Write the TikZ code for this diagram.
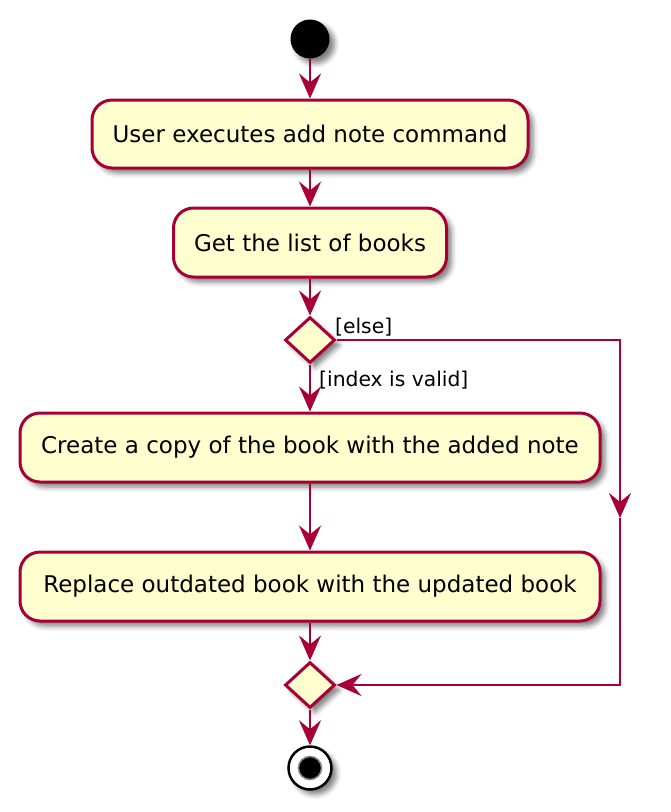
\documentclass[tikz,border=0pt]{standalone}
\usepackage{fontspec}
\setmainfont{DejaVu Sans}
\usetikzlibrary{shapes.geometric,arrows.meta,shadows.blur}
\definecolor{umlred}{HTML}{A80036}
\definecolor{umlfill}{HTML}{FEFECE}
\tikzset{
  shad/.style={blur shadow={shadow xshift=5pt, shadow yshift=-5pt, shadow blur radius=5pt, shadow opacity=50}},
  act/.style={draw=umlred, fill=umlfill, line width=3pt, rounded corners=20pt, inner sep=0pt, font=\fontsize{23}{26}\selectfont, shad},
  dec/.style={draw=umlred, fill=umlfill, line width=3pt, shape=diamond, inner sep=0pt, minimum width=50pt, minimum height=46pt, shad},
  flow/.style={draw=umlred, line width=2.6pt, -{Stealth[length=25pt,width=22pt,inset=9pt]}},
  lbl/.style={font=\fontsize{20.3}{23}\selectfont, inner sep=0pt, anchor=west}
}
\begin{document}
\begin{tikzpicture}[x=1pt,y=-1pt]
\useasboundingbox (0,0) rectangle (670,812);
\node[circle, fill=black, minimum size=39pt, inner sep=0pt, shad] (start) at (310,39) {};
\node[act, minimum width=436pt, minimum height=68pt] (a1) at (310,134) {User executes add note command};
\node[act, minimum width=273pt, minimum height=69pt] (a2) at (310,242.5) {Get the list of books};
\node[dec] (d1) at (310,340) {};
\node[act, minimum width=580pt, minimum height=69pt] (a3) at (310,447.5) {Create a copy of the book with the added note};
\node[act, minimum width=580pt, minimum height=69pt] (a4) at (310,586.5) {Replace outdated book with the updated book};
\node[dec] (d2) at (310,685) {};
\node[circle, draw=black, line width=2.5pt, fill=white, minimum size=43pt, inner sep=0pt, shad] (stop) at (310,768) {};
\node[circle, fill=black, draw=black!50, line width=1.5pt, minimum size=23pt, inner sep=0pt] (stopin) at (stop.center) {};
\coordinate (r1) at (620,340);
\coordinate (rm) at (620,518);
\coordinate (r2) at (620,685);
\draw[flow] (start) -- (a1);
\draw[flow] (a1) -- (a2);
\draw[flow] (a2) -- (d1);
\draw[flow] (d1) -- (a3);
\draw[flow] (a3) -- (a4);
\draw[flow] (a4) -- (d2);
\draw[flow] (d2) -- (stop);
\draw[flow] (d1.east) -- (r1) -- (rm);
\draw[flow] (rm) -- (r2) -- (d2.east);
\node[lbl] (lelse) at (335,327) {[else]};
\node[lbl] (lvalid) at (319,380) {[index is valid]};
\end{tikzpicture}
\end{document}
